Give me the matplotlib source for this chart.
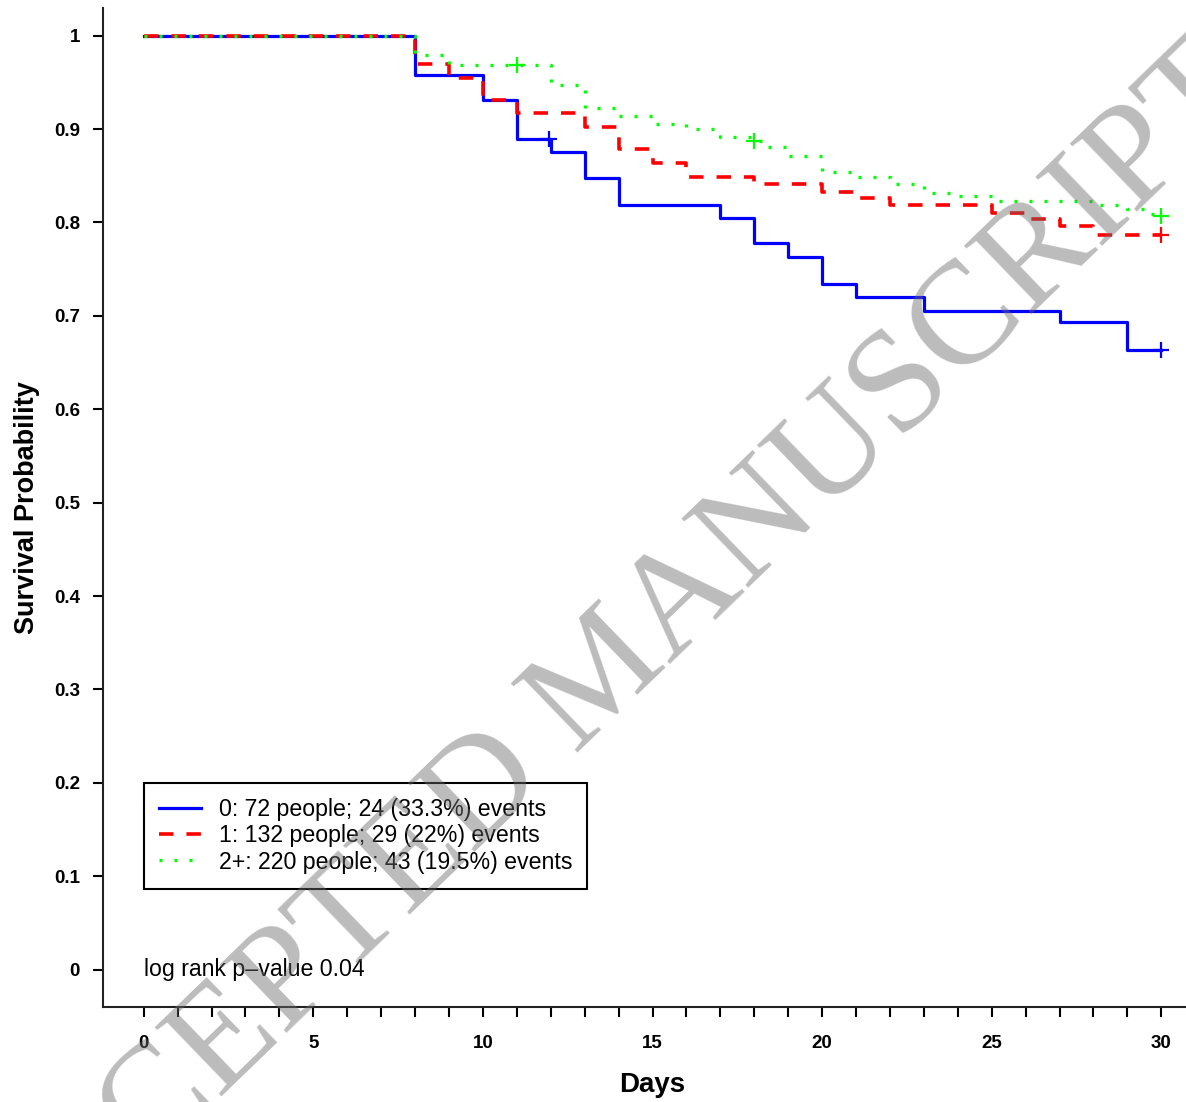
import matplotlib
matplotlib.use("Agg")
import matplotlib.pyplot as plt

plt.rcParams['font.family'] = ['Liberation Sans', 'DejaVu Sans']

# Kaplan-Meier steps
blue_t = [0, 8, 10, 11, 12, 13, 14, 17, 18, 19, 20, 21, 23, 27, 29, 30]
blue_s = [1.0, 0.958, 0.931, 0.889, 0.875, 0.848, 0.819, 0.805, 0.778, 0.763,
          0.734, 0.720, 0.705, 0.693, 0.663, 0.663]
blue_cens_t = [11.95, 30]
blue_cens_s = [0.889, 0.663]

red_t = [0, 8, 9, 10, 11, 13, 14, 15, 16, 18, 20, 21, 22, 25, 26, 27, 28, 30]
red_s = [1.0, 0.970, 0.955, 0.931, 0.917, 0.902, 0.879, 0.864, 0.849, 0.841,
         0.833, 0.826, 0.819, 0.810, 0.804, 0.796, 0.787, 0.787]
red_cens_t = [30]
red_cens_s = [0.787]

green_t = [0, 8, 9, 12, 13, 14, 15, 16, 17, 18, 18.4, 19, 20, 21, 22, 23, 24,
           25, 28, 29, 29.5, 30]
green_s = [1.0, 0.979, 0.969, 0.947, 0.923, 0.914, 0.905, 0.900, 0.891, 0.887,
           0.881, 0.871, 0.854, 0.849, 0.841, 0.832, 0.828, 0.823, 0.819, 0.814,
           0.809, 0.807]
green_cens_t = [11, 18, 30]
green_cens_s = [0.969, 0.887, 0.807]

labels = ['0: 72 people; 24 (33.3%) events',
          '1: 132 people; 29 (22%) events',
          '2+: 220 people; 43 (19.5%) events']
pvalue_text = 'log rank p\u2013value 0.04'

fig = plt.figure(figsize=(11.86, 11.02), dpi=100)
ax = fig.add_axes([103 / 1186, 95 / 1102, 1099 / 1186, 999 / 1102])

ax.step(blue_t, blue_s, where='post', color='#0000ff', lw=2.3, label=labels[0])
ax.step(red_t, red_s, where='post', color='#ff0000', lw=2.6,
        dashes=(4.0, 3.6), label=labels[1])
ax.step(green_t, green_s, where='post', color='#00ff00', lw=2.4,
        dashes=(0.9, 3.6), label=labels[2])

ax.plot(blue_cens_t, blue_cens_s, ls='none', marker='+', ms=11, mew=1.6, color='#0000ff')
ax.plot(red_cens_t, red_cens_s, ls='none', marker='+', ms=11, mew=1.6, color='#ff0000')
ax.plot(green_cens_t, green_cens_s, ls='none', marker='+', ms=11, mew=1.6, color='#00ff00')

ax.set_xlim(-1.2, 31.2)
ax.set_ylim(-0.04, 1.0296)

ax.spines['top'].set_visible(False)
ax.spines['right'].set_visible(False)
for s in ['left', 'bottom']:
    ax.spines[s].set_linewidth(1.5)
    ax.spines[s].set_color('#222222')

ax.set_xticks(range(0, 31))
ax.set_xticklabels([str(d) if d % 5 == 0 else '' for d in range(0, 31)])
yt = [i / 10 for i in range(11)]
ax.set_yticks(yt)
ax.set_yticklabels(['0' if v == 0 else ('1' if v == 1 else f'{v:.1f}') for v in yt])
ax.tick_params(axis='x', length=7.5, width=1.5, pad=13, labelsize=13.5)
ax.tick_params(axis='y', length=7.5, width=1.5, pad=9, labelsize=13.5)
for lab in ax.get_xticklabels() + ax.get_yticklabels():
    lab.set_fontweight('bold')

ax.set_xlabel('Days', fontsize=20, fontweight='bold', labelpad=14)
ax.set_ylabel('Survival Probability', fontsize=19.5, fontweight='bold', labelpad=10)

leg = ax.legend(loc='upper left', bbox_to_anchor=(144 / 1186, 1 - 783 / 1102),
                bbox_transform=fig.transFigure, borderaxespad=0, fontsize=16.7,
                fancybox=False, edgecolor='black', framealpha=1,
                handlelength=1.8, handletextpad=0.78, labelspacing=0.14,
                borderpad=0.65)
leg.get_frame().set_linewidth(1.5)

ax.text(0, 0, pvalue_text, fontsize=16.7, va='center', ha='left')

# watermark
fig.text(0.51, 0.385, 'ACCEPTED MANUSCRIPT', rotation=44, ha='center', va='center',
         fontsize=106, family='Liberation Serif', color='0.42', alpha=0.45, zorder=10)

fig.savefig('out.png', dpi=100)
